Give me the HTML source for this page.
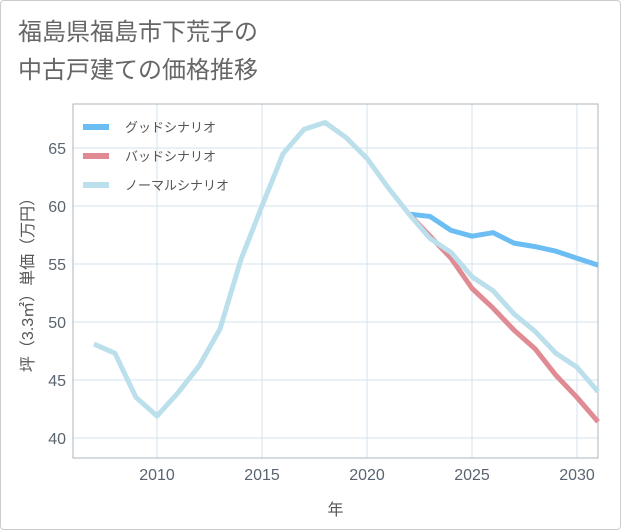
<!DOCTYPE html>
<html><head><meta charset="utf-8"><style>
body{margin:0;background:#fff;font-family:"Liberation Sans","Noto Sans CJK JP",sans-serif;}
#card{position:absolute;left:0;top:0;width:619px;height:528px;border:1px solid #ccc;border-radius:4px;background:#fff;}
.title{position:absolute;left:17px;font-size:24px;color:#666;line-height:30px;white-space:nowrap;}
</style></head><body>
<div id="card">
<div class="title" style="top:17px">福島県福島市下荒子の</div>
<div class="title" style="top:55px">中古戸建ての価格推移</div>
<svg id="chart" width="621" height="530" style="position:absolute;left:0;top:0"></svg>
</div>
<script>
const years=[2007,2008,2009,2010,2011,2012,2013,2014,2015,2016,2017,2018,2019,2020,2021,2022,2023,2024,2025,2026,2027,2028,2029,2030,2031];
const normalValues=[48.1,47.3,43.5,41.9,43.9,46.2,49.4,55.4,60,64.5,66.6,67.2,65.9,64.1,61.6,59.3,57.2,56,53.9,52.7,50.7,49.2,47.3,46.1,44];
const goodYears=[2022,2023,2024,2025,2026,2027,2028,2029,2030,2031];
const goodValues=[59.3,59.1,57.9,57.4,57.7,56.8,56.5,56.1,55.5,54.9];
const badYears=[2022,2023,2024,2025,2026,2027,2028,2029,2030,2031];
const badValues=[59.3,57.4,55.5,52.9,51.2,49.3,47.7,45.4,43.5,41.4];
const xTicks=[2010,2015,2020,2025,2030];
const yTicks=[40,45,50,55,60,65];
const legendLabels=["グッドシナリオ","バッドシナリオ","ノーマルシナリオ"];
const legendColors=["#6bbdf3","#e08a93","#bcdfec"];

const L=72,R=597,T=103,B=457;
const xMin=2006,xMax=2031,yMin=38.28,yMax=68.79;
const X=v=>L+(v-xMin)/(xMax-xMin)*(R-L);
const Y=v=>B-(v-yMin)/(yMax-yMin)*(B-T);
const svg=document.getElementById('chart');
const NS='http://www.w3.org/2000/svg';
function mk(tag,attrs){const e=document.createElementNS(NS,tag);for(const k in attrs)e.setAttribute(k,attrs[k]);svg.appendChild(e);return e;}

xTicks.forEach(t=>{
  const g=mk('line',{x1:X(t),x2:X(t),y1:T,y2:B,stroke:'#d3e3ee','stroke-width':1});
  
  
  const tx=mk('text',{x:X(t),y:B+22,'text-anchor':'middle','font-size':16,fill:'#5a6470','font-family':'Liberation Sans, sans-serif'});
  tx.textContent=t;
  
  
});
yTicks.forEach(t=>{
  const g=mk('line',{x1:L,x2:R,y1:Y(t),y2:Y(t),stroke:'#d3e3ee','stroke-width':1});
  
  
  const tx=mk('text',{x:L-7,y:Y(t)+6,'text-anchor':'end','font-size':16,fill:'#5a6470','font-family':'Liberation Sans, sans-serif'});
  tx.textContent=t;
  
  
});
const frame=mk('rect',{x:L,y:T,width:R-L,height:B-T,fill:'none',stroke:'#aab4bd','stroke-width':1});



function line(xs,vs,color,name){
  const p=mk('polyline',{points:xs.map((x,i)=>X(x)+','+Y(vs[i])).join(' '),fill:'none',stroke:color,'stroke-width':5,'stroke-linejoin':'round'});
  
  
}
line(goodYears,goodValues,legendColors[0],'good-scenario-line');
line(badYears,badValues,legendColors[1],'bad-scenario-line');
line(years,normalValues,legendColors[2],'normal-scenario-line');

legendLabels.forEach((lab,i)=>{
  const y=126+i*29;
  const l=mk('line',{x1:82,x2:108,y1:y,y2:y,stroke:legendColors[i],'stroke-width':6});
  
  
  const t=mk('text',{x:124,y:y+5,'font-size':13,fill:'#555','font-family':'Liberation Sans, Noto Sans CJK JP, sans-serif'});
  t.textContent=lab;
  
  
});

const xt=mk('text',{x:(L+R)/2,y:514,'text-anchor':'middle','font-size':16,fill:'#555','font-family':'Noto Sans CJK JP, sans-serif'});
xt.textContent='年';


const yt=mk('text',{x:0,y:0,'text-anchor':'middle','font-size':16,fill:'#555','font-family':'Liberation Sans, Noto Sans CJK JP, sans-serif',transform:'translate(32,'+((T+B)/2)+') rotate(-90)'});
yt.textContent='坪（3.3㎡）単価（万円）';


</script>
</body></html>
